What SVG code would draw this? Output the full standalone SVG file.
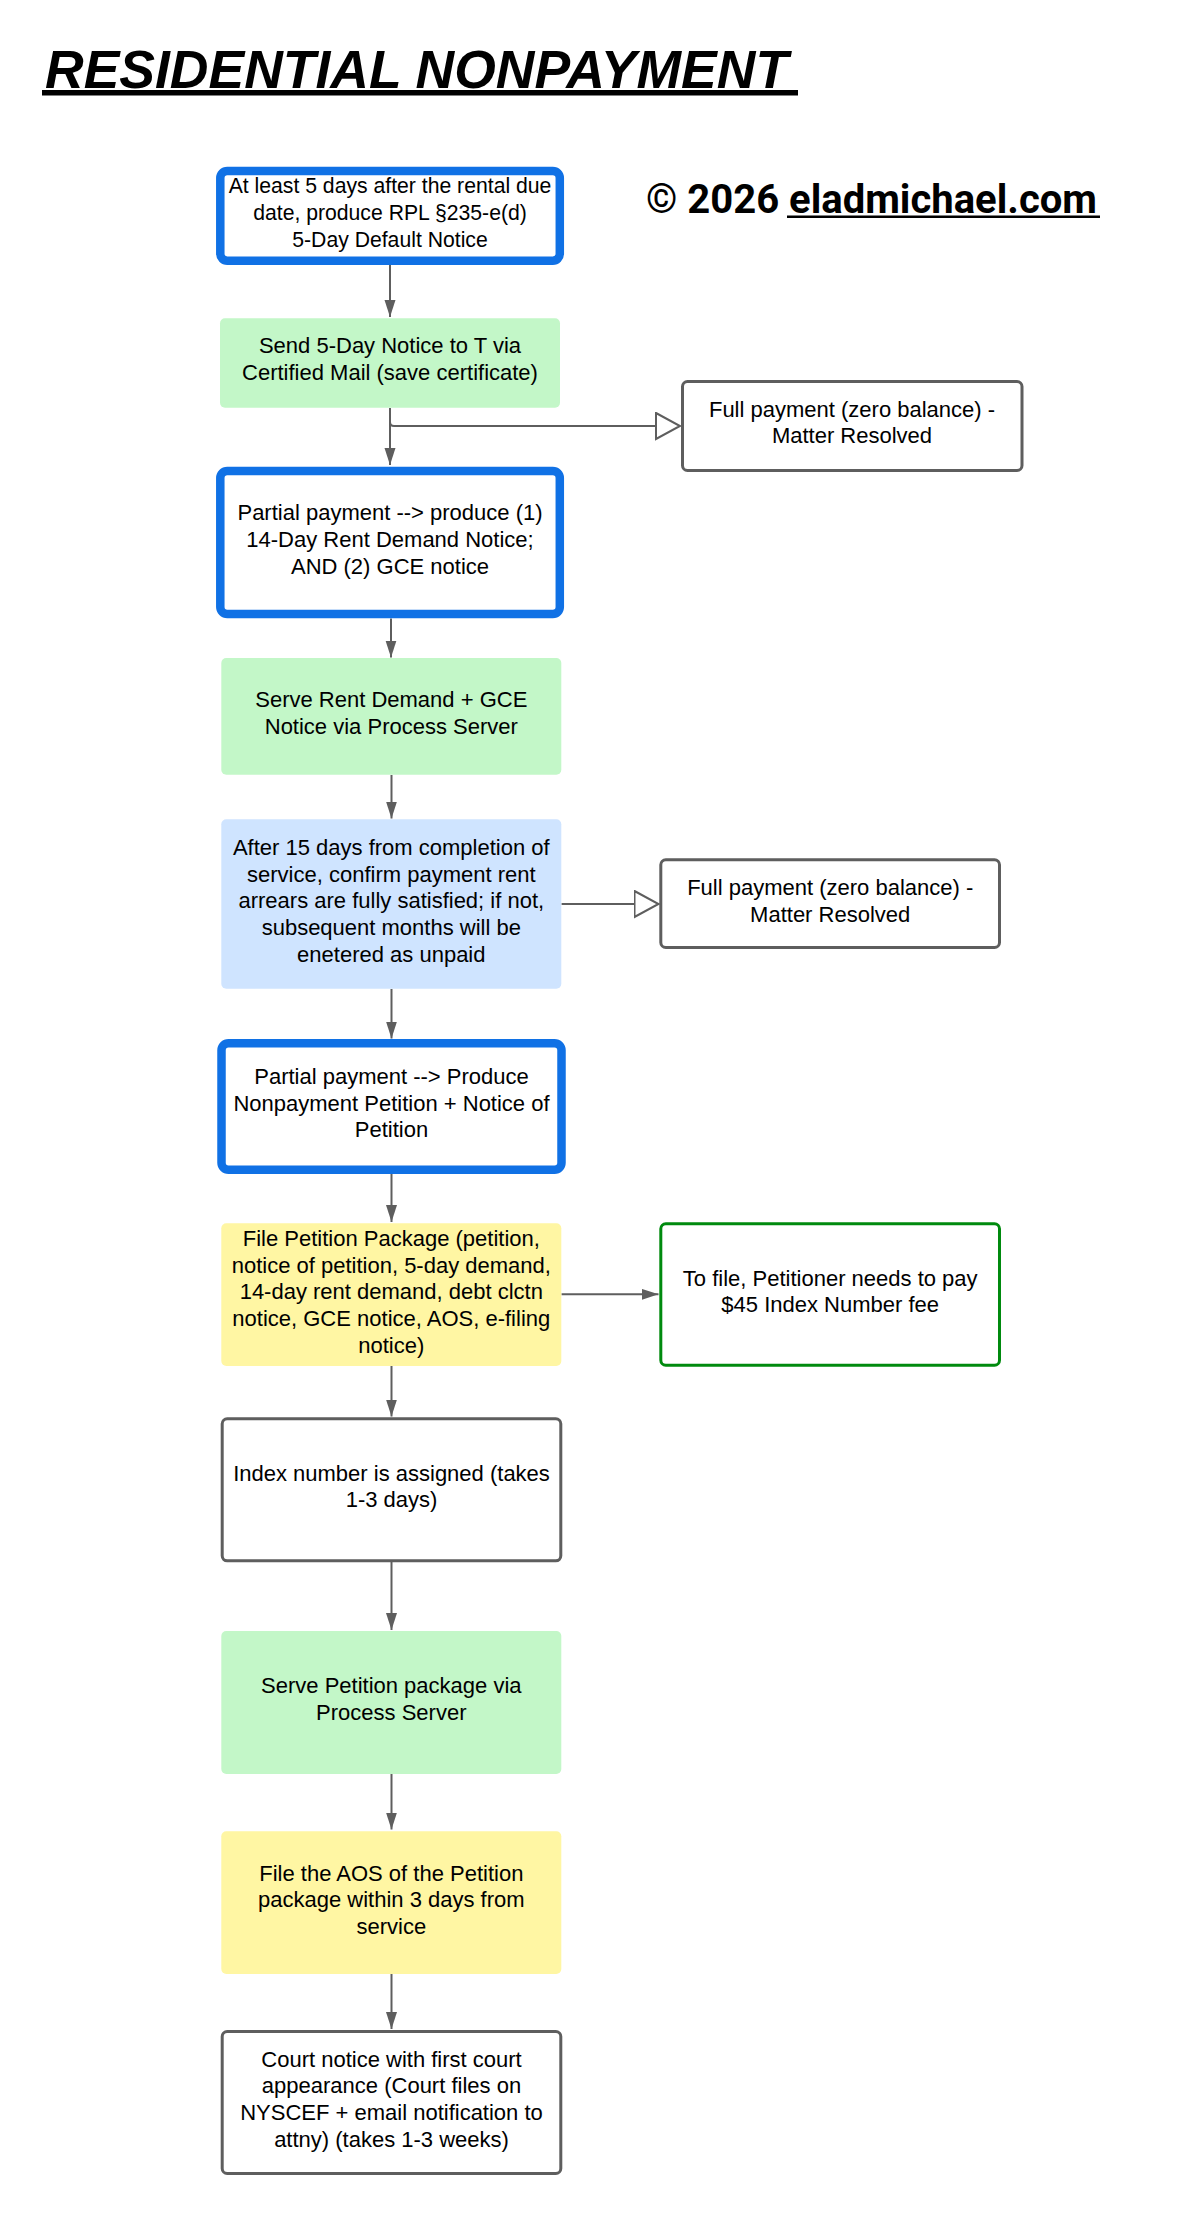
<svg xmlns="http://www.w3.org/2000/svg" width="1180" height="2215" viewBox="0 0 1180 2215">
  <style>
    .t { font-family: "Liberation Sans", Arial, sans-serif; font-size: 22px; fill: #000; text-anchor: middle; }
    .t1 { font-size: 21.2px; }
    .blue { fill: #ffffff; stroke: #1071e5; stroke-width: 8.5; }
    .green { fill: #c3f7c8; stroke: none; }
    .lblue { fill: #cfe4ff; stroke: none; }
    .yellow { fill: #fff6a3; stroke: none; }
    .gray { fill: #ffffff; stroke: #5e5e5e; stroke-width: 3; }
    .gbox { fill: #ffffff; stroke: #008a0e; stroke-width: 3; }
    .conn { fill: none; stroke: #5e5e5e; stroke-width: 2; }
    .title { font-family: "Liberation Sans", Arial, sans-serif; font-size: 53.5px; font-weight: bold; font-style: italic; fill: #000; }
    .copy { font-family: Roboto, "Liberation Sans", sans-serif; font-size: 40px; font-weight: bold; fill: #000; }
  </style>
  <defs>
    <marker id="arrow" markerUnits="userSpaceOnUse" markerWidth="18" markerHeight="12" refX="17" refY="5.5" orient="auto">
      <path d="M0,0 L17,5.5 L0,11 Z" fill="#5e5e5e"/>
    </marker>
    <marker id="hollow" markerUnits="userSpaceOnUse" markerWidth="28" markerHeight="30" refX="25" refY="14" orient="auto">
      <path d="M1,1 L25,14 L1,27 Z" fill="#ffffff" stroke="#5e5e5e" stroke-width="2"/>
    </marker>
  </defs>
  <rect width="1180" height="2215" fill="#ffffff"/>

  <g id="title">
    <text class="title" x="45" y="88">RESIDENTIAL NONPAYMENT</text>
    <rect x="42" y="90" width="756" height="5.5" fill="#000"/>
  </g>
  <g id="copyright">
    <text class="copy" x="646" y="213">© 2026 eladmichael.com</text>
    <rect x="787" y="215.5" width="313" height="2.5" fill="#000"/>
  </g>

  <g id="connectors">
    <path class="conn" d="M390,265 L390,317" marker-end="url(#arrow)"/>
    <path class="conn" d="M390,408 L390,465" marker-end="url(#arrow)"/>
    <path class="conn" d="M390,408 L390,422 Q390,426 394,426 L680,426" marker-end="url(#hollow)"/>
    <path class="conn" d="M391,618.5 L391,657.5" marker-end="url(#arrow)"/>
    <path class="conn" d="M391.5,775 L391.5,818.5" marker-end="url(#arrow)"/>
    <path class="conn" d="M561.5,904 L658.5,904" marker-end="url(#hollow)"/>
    <path class="conn" d="M391.5,989 L391.5,1038.5" marker-end="url(#arrow)"/>
    <path class="conn" d="M391.5,1174 L391.5,1222" marker-end="url(#arrow)"/>
    <path class="conn" d="M561.5,1294.3 L658.5,1294.3" marker-end="url(#arrow)"/>
    <path class="conn" d="M391.5,1366 L391.5,1416.5" marker-end="url(#arrow)"/>
    <path class="conn" d="M391.5,1562 L391.5,1630" marker-end="url(#arrow)"/>
    <path class="conn" d="M391.5,1774 L391.5,1829.5" marker-end="url(#arrow)"/>
    <path class="conn" d="M391.5,1974 L391.5,2029" marker-end="url(#arrow)"/>
  </g>

  <g id="n1">
    <rect class="blue" x="220.3" y="171" width="339.5" height="89.7" rx="7"/>
    <text class="t t1" x="390" y="193.3">At least 5 days after the rental due</text>
    <text class="t t1" x="390" y="220">date, produce RPL §235-e(d)</text>
    <text class="t t1" x="390" y="246.5">5-Day Default Notice</text>
  </g>
  <g id="n2">
    <rect class="green" x="220" y="318.3" width="340" height="89.4" rx="5"/>
    <text class="t" x="390" y="353.3">Send 5-Day Notice to T via</text>
    <text class="t" x="390" y="380">Certified Mail (save certificate)</text>
  </g>
  <g id="fp1">
    <rect class="gray" x="682.5" y="381.5" width="339.5" height="89" rx="5"/>
    <text class="t" x="852" y="416.7">Full payment (zero balance) -</text>
    <text class="t" x="852" y="443.3">Matter Resolved</text>
  </g>
  <g id="n3">
    <rect class="blue" x="220.3" y="471" width="339.5" height="143" rx="7"/>
    <text class="t" x="390" y="520">Partial payment --&gt; produce (1)</text>
    <text class="t" x="390" y="546.7">14-Day Rent Demand Notice;</text>
    <text class="t" x="390" y="573.5">AND (2) GCE notice</text>
  </g>
  <g id="n4">
    <rect class="green" x="221.3" y="658" width="340" height="116.7" rx="5"/>
    <text class="t" x="391.3" y="707.3">Serve Rent Demand + GCE</text>
    <text class="t" x="391.3" y="734">Notice via Process Server</text>
  </g>
  <g id="n5">
    <rect class="lblue" x="221.3" y="819.3" width="340" height="169.4" rx="5"/>
    <text class="t" x="391.3" y="855">After 15 days from completion of</text>
    <text class="t" x="391.3" y="881.7">service, confirm payment rent</text>
    <text class="t" x="391.3" y="908.3">arrears are fully satisfied; if not,</text>
    <text class="t" x="391.3" y="935">subsequent months will be</text>
    <text class="t" x="391.3" y="961.7">enetered as unpaid</text>
  </g>
  <g id="fp2">
    <rect class="gray" x="660.8" y="859.8" width="338.7" height="87.7" rx="5"/>
    <text class="t" x="830.2" y="895">Full payment (zero balance) -</text>
    <text class="t" x="830.2" y="921.7">Matter Resolved</text>
  </g>
  <g id="n6">
    <rect class="blue" x="221.5" y="1043.3" width="340" height="126.5" rx="7"/>
    <text class="t" x="391.5" y="1084">Partial payment --&gt; Produce</text>
    <text class="t" x="391.5" y="1110.7">Nonpayment Petition + Notice of</text>
    <text class="t" x="391.5" y="1137.3">Petition</text>
  </g>
  <g id="n7">
    <rect class="yellow" x="221.3" y="1223.3" width="340" height="142.7" rx="5"/>
    <text class="t" x="391.3" y="1246">File Petition Package (petition,</text>
    <text class="t" x="391.3" y="1272.7">notice of petition, 5-day demand,</text>
    <text class="t" x="391.3" y="1299.3">14-day rent demand, debt clctn</text>
    <text class="t" x="391.3" y="1326">notice, GCE notice, AOS, e-filing</text>
    <text class="t" x="391.3" y="1352.7">notice)</text>
  </g>
  <g id="fee">
    <rect class="gbox" x="660.8" y="1223.8" width="338.7" height="141.4" rx="5"/>
    <text class="t" x="830.2" y="1285.7">To file, Petitioner needs to pay</text>
    <text class="t" x="830.2" y="1312.3">$45 Index Number fee</text>
  </g>
  <g id="n8">
    <rect class="gray" x="222.2" y="1418.8" width="338.6" height="142" rx="5"/>
    <text class="t" x="391.5" y="1480.7">Index number is assigned (takes</text>
    <text class="t" x="391.5" y="1507.3">1-3 days)</text>
  </g>
  <g id="n9">
    <rect class="green" x="221.3" y="1631" width="340" height="143" rx="5"/>
    <text class="t" x="391.3" y="1693.3">Serve Petition package via</text>
    <text class="t" x="391.3" y="1720">Process Server</text>
  </g>
  <g id="n10">
    <rect class="yellow" x="221.3" y="1831.3" width="340" height="142.7" rx="5"/>
    <text class="t" x="391.3" y="1880.7">File the AOS of the Petition</text>
    <text class="t" x="391.3" y="1907.3">package within 3 days from</text>
    <text class="t" x="391.3" y="1934">service</text>
  </g>
  <g id="n11">
    <rect class="gray" x="222.2" y="2031.5" width="338.6" height="142" rx="5"/>
    <text class="t" x="391.5" y="2066.7">Court notice with first court</text>
    <text class="t" x="391.5" y="2093.3">appearance (Court files on</text>
    <text class="t" x="391.5" y="2120">NYSCEF + email notification to</text>
    <text class="t" x="391.5" y="2146.7">attny) (takes 1-3 weeks)</text>
  </g>
</svg>
